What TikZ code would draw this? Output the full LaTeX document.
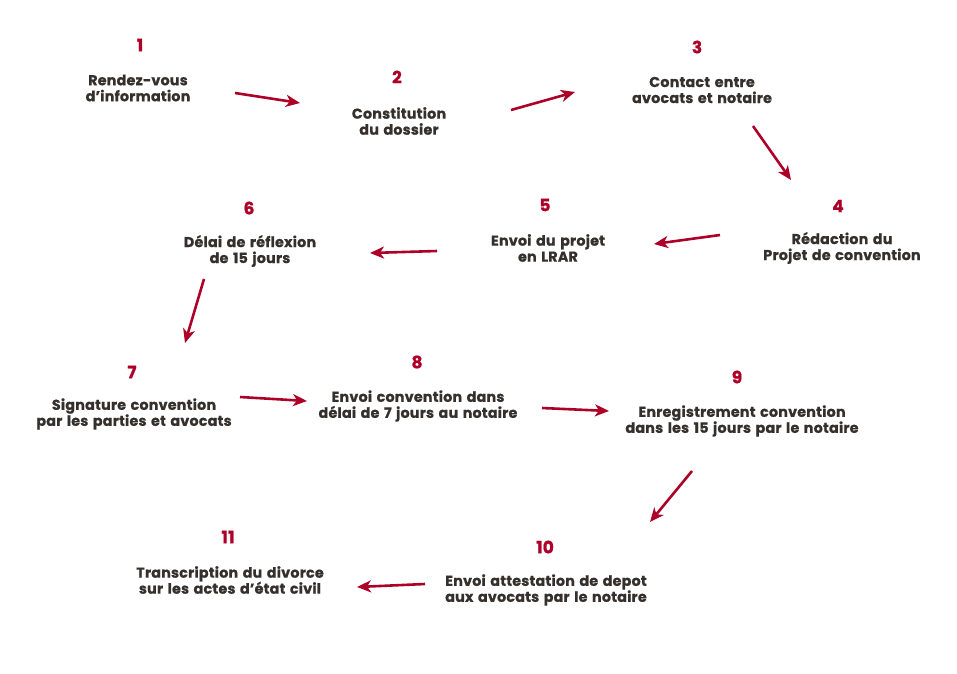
\documentclass[tikz,border=0pt]{standalone}
\usepackage{fontspec}
\setmainfont{Poppins}[LetterSpace=1.5, WordSpace=1.4, BoldFeatures={FakeBold=0.8}]
\usetikzlibrary{arrows.meta, positioning}
\definecolor{stepred}{HTML}{AC0028}
\definecolor{stepdark}{HTML}{35302C}

\begin{document}
\begin{tikzpicture}[
    x=1pt, y=-1pt,
    num/.style={font=\fontsize{17}{18}\selectfont\bfseries, text=stepred, inner sep=0pt},
    txt/.style={font=\fontsize{14.3}{16}\selectfont\bfseries, text=stepdark, align=center, inner sep=0pt},
    flow/.style={-{Stealth[length=14pt, width=12pt, inset=4pt]}, line width=2.6pt, stepred},
]
    \useasboundingbox (0,0) rectangle (957,673);

    % Step numbers
    \node[num] (n1) at (140,45) {1};
    \node[num] (n2) at (397,77) {2};
    \node[num] (n3) at (697,47) {3};
    \node[num] (n4) at (838,206) {4};
    \node[num] (n5) at (545,205) {5};
    \node[num] (n6) at (249,208) {6};
    \node[num] (n7) at (132,372) {7};
    \node[num] (n8) at (417,362) {8};
    \node[num] (n9) at (737,377) {9};
    \node[num] (n10) at (545,547) {10};
    \node[num] (n11) at (228,537) {11};

    % Step texts
    \node[txt] (t1) at (138,88) {Rendez-vous\\d’information};
    \node[txt] (t2) at (399,121) {Constitution\\du dossier};
    \node[txt] (t3) at (702,90) {Contact entre\\avocats et notaire};
    \node[txt] (t4) at (842,248) {Rédaction du\\Projet de convention};
    \node[txt] (t5) at (548,248) {Envoi du projet\\en LRAR};
    \node[txt] (t6) at (250,251) {Délai de réflexion\\de 15 jours};
    \node[txt] (t7) at (134,414) {Signature convention\\par les parties et avocats};
    \node[txt] (t8) at (418,406) {Envoi convention dans\\délai de 7 jours au notaire};
    \node[txt] (t9) at (742,421) {Enregistrement convention\\dans les 15 jours par le notaire};
    \node[txt] (t10) at (546,590) {Envoi attestation de depot\\aux avocats par le notaire};
    \node[txt] (t11) at (230,580) {Transcription du divorce\\sur les actes d’état civil};

    % Arrow ends
    \coordinate (s1) at (235,93);  \coordinate (e1) at (300,103);
    \coordinate (s2) at (511,110); \coordinate (e2) at (575,92);
    \coordinate (s3) at (753,126); \coordinate (e3) at (791,180);
    \coordinate (s4) at (720,235); \coordinate (e4) at (654,244);
    \coordinate (s5) at (437,251); \coordinate (e5) at (370,253);
    \coordinate (s6) at (204,279); \coordinate (e6) at (185,343);
    \coordinate (s7) at (240,397); \coordinate (e7) at (307,401);
    \coordinate (s8) at (542,408); \coordinate (e8) at (609,411);
    \coordinate (s9) at (692,471); \coordinate (e9) at (650,522);
    \coordinate (s10) at (425,584); \coordinate (e10) at (357,587);

    % Connections
    \foreach \i in {1,...,10} {
        \draw[flow] (s\i) -- (e\i);
    }
\end{tikzpicture}
\end{document}
